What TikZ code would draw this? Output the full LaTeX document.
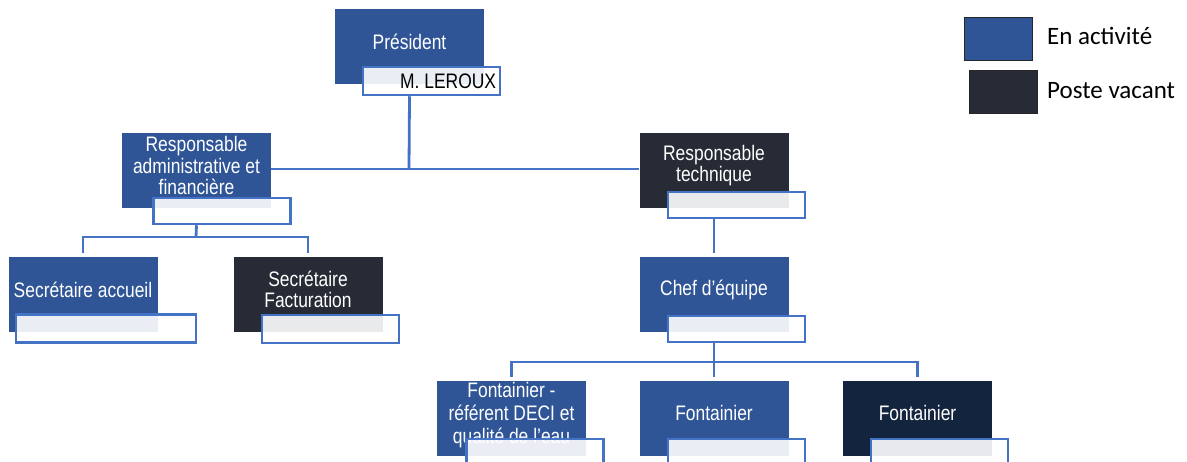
\documentclass[tikz,border=0pt]{standalone}
\usepackage{fontspec}
\setmainfont[FakeStretch=0.83]{Liberation Sans}
\newfontfamily\legfont{Carlito}
\definecolor{actblue}{HTML}{2F5597}
\definecolor{vacdark}{HTML}{262B35}
\definecolor{navy}{HTML}{13243F}
\definecolor{linkblue}{HTML}{4472C4}
\tikzset{
  x=1pt, y=-1pt,
  posbox/.style={rectangle, inner sep=0pt, minimum width=149pt, minimum height=75pt},
  actbox/.style={posbox, fill=actblue},
  vacbox/.style={posbox, fill=vacdark},
  navbox/.style={posbox, fill=navy},
  btext/.style={text=white, font=\fontsize{21}{21.5}\selectfont, align=center, inner sep=0pt, yshift=5pt},
  namebox/.style={rectangle, inner sep=0pt, minimum width=137pt, minimum height=28pt, draw=linkblue, line width=2.5pt, fill=white, fill opacity=0.9, text opacity=1},
  link/.style={draw=linkblue, line width=2.8pt},
  legbox/.style={rectangle, inner sep=0pt, minimum width=68pt, minimum height=43pt, draw=black!85, line width=0.8pt},
  legtext/.style={font=\legfont\fontsize{25}{27}\selectfont, anchor=west, inner sep=0pt}
}
\begin{document}
\begin{tikzpicture}
\useasboundingbox (0,0) rectangle (1187,461);
\clip (0,0) rectangle (1187,461);

% boxes
\node[actbox, label={[btext]center:Président}] (pres) at (409.5,46.5) {};
\node[actbox, label={[btext]center:Responsable\\administrative et\\financière}] (raf) at (196.5,170.5) {};
\node[vacbox, label={[btext]center:Responsable\\technique}] (rt) at (714,170.5) {};
\node[actbox, label={[btext]center:Secrétaire accueil}] (sa) at (83,294.5) {};
\node[vacbox, label={[btext]center:Secrétaire\\Facturation}] (sf) at (308,294.5) {};
\node[actbox, label={[btext]center:Chef d'équipe}] (chef) at (714,294.5) {};
\node[actbox, label={[btext, font=\fontsize{21}{23}\selectfont, yshift=-2pt]center:Fontainier -\\référent DECI et\\qualité de l'eau}] (deci) at (511.5,418) {};
\node[actbox, label={[btext]center:Fontainier}] (f2) at (714,418) {};
\node[navbox, label={[btext]center:Fontainier}] (f3) at (917.5,418) {};

% name boxes
\node[namebox] (preslbl) at (431.5,81) {};
\node[text=black, font=\fontsize{21}{21.5}\selectfont, anchor=east, inner sep=0pt] (presname) at ([xshift=-5pt]preslbl.east) {M. LEROUX};
\node[namebox, minimum height=26pt] (raflbl) at (222,211) {};
\node[namebox, minimum height=26pt] (rtlbl) at (736.5,205) {};
\node[namebox, minimum width=180pt] (salbl) at (106,328.5) {};
\node[namebox] (sflbl) at (330.5,329) {};
\node[namebox, minimum height=26pt] (cheflbl) at (736.5,329) {};
\node[namebox] (decilbl) at (535,453) {};
\node[namebox] (f2lbl) at (736.5,453) {};
\node[namebox] (f3lbl) at (939.5,453) {};

% junctions
\coordinate (j1) at (409,169);
\coordinate (j2) at (196,237);
\coordinate (j3) at (714,362);

% connectors
\draw[link] (pres.south |- preslbl.south) -- (j1);
\draw[link] (raf.east |- j1) -- (rt.west |- j1);
\draw[link] (raf.south |- raflbl.south) -- (j2);
\draw[link, shorten >=4pt] (j2) -| (sa.north);
\draw[link, shorten >=4pt] (j2) -| (sf.north);
\draw[link, shorten >=4pt] (rt.south |- rtlbl.south) -- (chef.north);
\draw[link] (chef.south |- cheflbl.south) -- (j3);
\draw[link, shorten >=3pt] (j3) -| (deci.north);
\draw[link, shorten >=3pt] (j3) -- (f2.north);
\draw[link, shorten >=3pt] (j3) -| (f3.north);

% legend
\node[legbox, fill=actblue] (leg1) at (998,38.5) {};
\node[legtext] (leg1t) at (1047,36) {En activité};
\node[legbox, fill=vacdark] (leg2) at (1003.5,91.5) {};
\node[legtext] (leg2t) at (1047,91) {Poste vacant};
\end{tikzpicture}
\end{document}
